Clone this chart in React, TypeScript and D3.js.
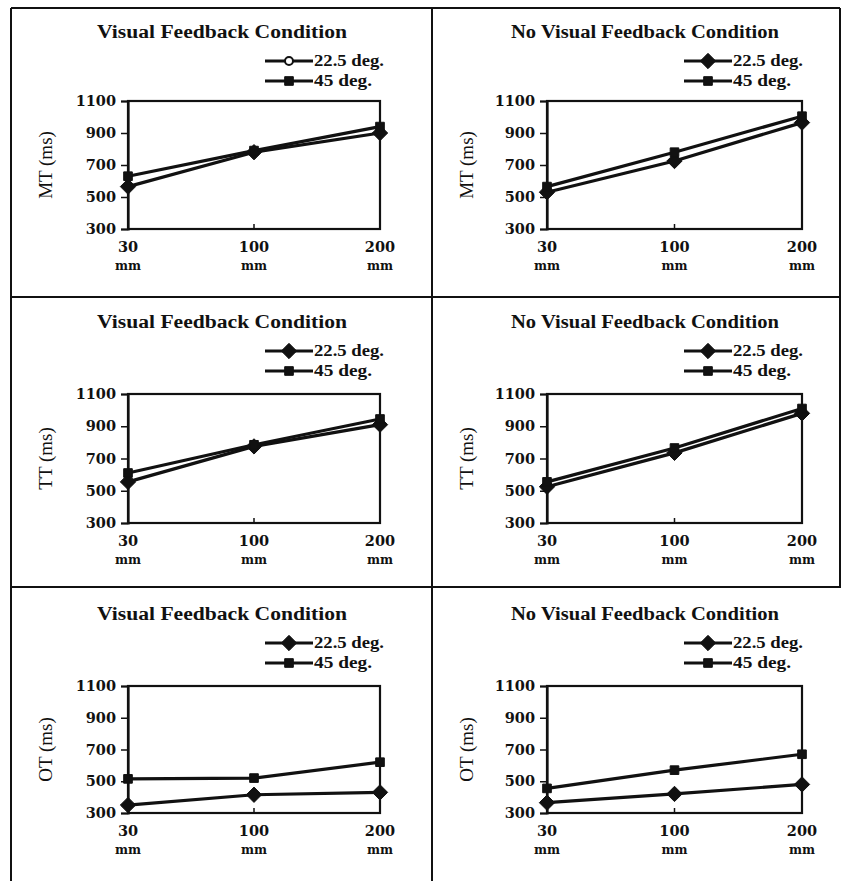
import React from "react";
import * as d3 from "d3";

// -- DATA --
const distances = ["30", "100", "200"];
const seriesNames = ["22.5 deg.", "45 deg."];
const titles = ["Visual Feedback Condition", "No Visual Feedback Condition"];
const measures = ["MT (ms)", "TT (ms)", "OT (ms)"];
const yTicks = [300, 500, 700, 900, 1100];

const mtVisual225 = [565, 780, 900];
const mtVisual45 = [630, 790, 940];
const mtNoVisual225 = [530, 725, 965];
const mtNoVisual45 = [565, 780, 1005];
const ttVisual225 = [555, 775, 910];
const ttVisual45 = [610, 785, 945];
const ttNoVisual225 = [525, 735, 980];
const ttNoVisual45 = [555, 765, 1010];
const otVisual225 = [350, 415, 430];
const otVisual45 = [515, 520, 620];
const otNoVisual225 = [365, 420, 480];
const otNoVisual45 = [455, 570, 670];

const panelData = [
  [mtVisual225, mtVisual45],
  [mtNoVisual225, mtNoVisual45],
  [ttVisual225, ttVisual45],
  [ttNoVisual225, ttNoVisual45],
  [otVisual225, otVisual45],
  [otNoVisual225, otNoVisual45],
];

// -- LAYOUT --
const rows = [
  { top: 101, bottom: 229, title: 38 },
  { top: 394, bottom: 523, title: 328 },
  { top: 686, bottom: 813, title: 620 },
];
const cols = [
  { left: 128, right: 380, cx: 222, legX: 265, labX: 45 },
  { left: 547, right: 802, cx: 645, legX: 684, labX: 466 },
];

const serif = "'DejaVu Serif', 'Liberation Serif', serif";
const times = "'Liberation Serif', serif";
const ink = "#111";

const Panel = ({ idx }: { idx: number }) => {
  const ref = React.useRef<SVGGElement>(null);

  React.useEffect(() => {
    const row = rows[Math.floor(idx / 2)];
    const col = cols[idx % 2];
    const g = d3.select(ref.current);
    g.selectAll("*").remove();

    const x = d3.scalePoint<string>().domain(distances).range([col.left, col.right]);
    const y = d3.scaleLinear().domain([300, 1100]).range([row.bottom, row.top]);

    // title
    g.append("text")
      .attr("x", col.cx)
      .attr("y", row.title)
      .attr("text-anchor", "middle")
      .attr("font-family", times)
      .attr("font-weight", "bold")
      .attr("font-size", 18)
      .attr("fill", ink)
      .attr("textLength", idx % 2 === 0 ? 250 : 268)
      .attr("lengthAdjust", "spacingAndGlyphs")
      .text(titles[idx % 2]);

    // plot frame
    g.append("rect")
      .attr("x", col.left)
      .attr("y", row.top)
      .attr("width", col.right - col.left)
      .attr("height", row.bottom - row.top)
      .attr("fill", "none")
      .attr("stroke", ink)
      .attr("stroke-width", 2.2);

    // y axis
    const yAxis = g
      .append("g")
      .attr("transform", `translate(${col.left},0)`)
      .call(d3.axisLeft(y).tickValues(yTicks).tickSize(7).tickPadding(5).tickFormat(d3.format("d")));
    yAxis.select(".domain").attr("stroke", ink).attr("stroke-width", 2.2);
    yAxis.selectAll(".tick line").attr("stroke", ink).attr("stroke-width", 1.5);
    yAxis
      .selectAll(".tick text")
      .attr("font-family", serif)
      .attr("font-weight", "bold")
      .attr("font-size", 14.5)
      .attr("fill", ink);

    // middle x tick
    g.append("line")
      .attr("x1", x("100")!)
      .attr("x2", x("100")!)
      .attr("y1", row.bottom)
      .attr("y2", row.bottom - 5)
      .attr("stroke", ink)
      .attr("stroke-width", 1.5);

    // x labels
    const xl = g
      .selectAll("g.xl")
      .data(distances)
      .enter()
      .append("g")
      .attr("font-family", serif)
      .attr("font-weight", "bold")
      .attr("text-anchor", "middle")
      .attr("fill", ink);
    xl.append("text")
      .attr("x", (d) => x(d)!)
      .attr("y", row.bottom + 23)
      .attr("font-size", 14.5)
      .text((d) => d);
    xl.append("text")
      .attr("x", (d) => x(d)!)
      .attr("y", row.bottom + 41)
      .attr("font-size", 13)
      .attr("textLength", 26)
      .attr("lengthAdjust", "spacingAndGlyphs")
      .text("mm");

    // y label
    g.append("text")
      .attr("transform", `translate(${col.labX + 7},${(row.top + row.bottom) / 2}) rotate(-90)`)
      .attr("text-anchor", "middle")
      .attr("font-family", times)
      .attr("font-size", 19)
      .attr("fill", ink)
      .text(measures[Math.floor(idx / 2)]);

    // lines & markers
    const line = d3
      .line<number>()
      .x((_, i) => x(distances[i])!)
      .y((d) => y(d));
    const symbols = [d3.symbolDiamond2, d3.symbolSquare2];
    const sizes = [150, 95];

    panelData[idx].forEach((vals, s) => {
      g.append("path")
        .attr("d", line(vals))
        .attr("fill", "none")
        .attr("stroke", ink)
        .attr("stroke-width", 3.2);
      g.selectAll(`.m${s}`)
        .data(vals)
        .enter()
        .append("path")
        .attr("d", d3.symbol().type(symbols[s]).size(sizes[s])())
        .attr("transform", (d, i) => `translate(${x(distances[i])},${y(d)})`)
        .attr("fill", ink)
        .attr("stroke", ink)
        .attr("stroke-width", 1);
    });

    // legend
    seriesNames.forEach((name, s) => {
      const ly = row.title + 23 + s * 20;
      g.append("line")
        .attr("x1", col.legX)
        .attr("x2", col.legX + 48)
        .attr("y1", ly)
        .attr("y2", ly)
        .attr("stroke", ink)
        .attr("stroke-width", 3);
      const open = idx === 0 && s === 0;
      g.append("path")
        .attr("d", d3.symbol().type(open ? d3.symbolCircle : symbols[s]).size(open ? 50 : sizes[s])())
        .attr("transform", `translate(${col.legX + 24},${ly})`)
        .attr("fill", open ? "#fff" : ink)
        .attr("stroke", ink)
        .attr("stroke-width", open ? 2 : 1);
      g.append("text")
        .attr("x", col.legX + 49)
        .attr("y", ly + 5)
        .attr("font-family", times)
        .attr("font-weight", "bold")
        .attr("font-size", 16)
        .attr("fill", ink)
        .attr("textLength", s === 0 ? 70 : 58)
        .attr("lengthAdjust", "spacingAndGlyphs")
        .text(name);
    });
  }, [idx]);

  return <g ref={ref} />;
};

const App = () => {
  return (
    <div style={{ position: "absolute", left: 0, top: 0 }}>
      <svg width={842} height={881} style={{ display: "block", background: "#fff" }}>
        {/* table grid */}
        <line x1={11} x2={840} y1={8} y2={8} stroke={ink} strokeWidth={2} />
        <line x1={11} x2={11} y1={8} y2={881} stroke={ink} strokeWidth={2} />
        <line x1={432} x2={432} y1={8} y2={881} stroke={ink} strokeWidth={2} />
        <line x1={840} x2={840} y1={8} y2={588} stroke={ink} strokeWidth={2} />
        <line x1={11} x2={840} y1={297} y2={297} stroke={ink} strokeWidth={2} />
        <line x1={11} x2={840} y1={587} y2={587} stroke={ink} strokeWidth={2} />
        {[0, 1, 2, 3, 4, 5].map((i) => (
          <Panel key={i} idx={i} />
        ))}
      </svg>
    </div>
  );
};

export default App;
